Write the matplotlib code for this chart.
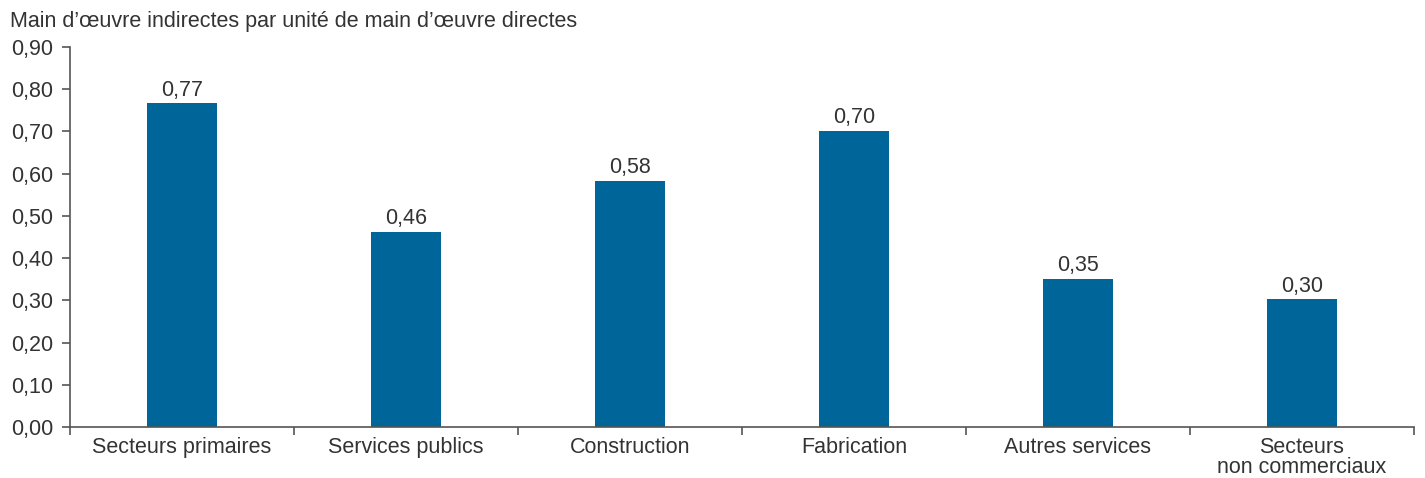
import matplotlib
matplotlib.use("Agg")
import matplotlib.pyplot as plt
import numpy as np

categories = ["Secteurs primaires", "Services publics", "Construction", "Fabrication",
              "Autres services", "Secteurs\nnon commerciaux"]
values = [0.767, 0.462, 0.583, 0.701, 0.351, 0.303]
yticks = [0.0, 0.1, 0.2, 0.3, 0.4, 0.5, 0.6, 0.7, 0.8, 0.9]
title = "Main d\u2019\u0153uvre indirectes par unit\u00e9 de main d\u2019\u0153uvre directes"

plt.rcParams['font.family'] = ['Liberation Sans', 'DejaVu Sans']
txt = '#333333'
fs = 15.5
fig = plt.figure(figsize=(14.25, 4.78), dpi=100)
ax = fig.add_axes([70/1425, 51/478, (1414-70)/1425, 380/478])
x = np.arange(len(categories))
ax.bar(x, values, width=0.31, color='#006699')
for xi, v in zip(x, values):
    ax.text(xi, v + 0.006, f"{v:.2f}".replace('.', ','), ha='center', va='bottom',
            fontsize=fs, color=txt)
ax.set_xlim(-0.5, len(categories) - 0.5)
ax.set_ylim(0, 0.9)
ax.set_yticks(yticks)
ax.set_yticklabels([f"{t:.2f}".replace('.', ',') for t in yticks], fontsize=fs, color=txt)
ax.set_xticks(x)
ax.set_xticklabels(categories, fontsize=fs, color=txt, linespacing=0.98)
ax.set_xticks(np.arange(-0.5, len(categories)), minor=True)
ax.tick_params(axis='x', which='major', length=0, pad=7)
ax.tick_params(axis='x', which='minor', length=6, width=1.2, color='#555555', direction='out')
ax.tick_params(axis='y', length=6, width=1.2, color='#555555', pad=6)
for s in ['top', 'right']:
    ax.spines[s].set_visible(False)
for s in ['left', 'bottom']:
    ax.spines[s].set_color('#555555')
    ax.spines[s].set_linewidth(1.2)
fig.text(10/1425, 1 - 22/478, title, fontsize=fs, color=txt, ha='left', va='center')
fig.savefig("out.png", dpi=100)
